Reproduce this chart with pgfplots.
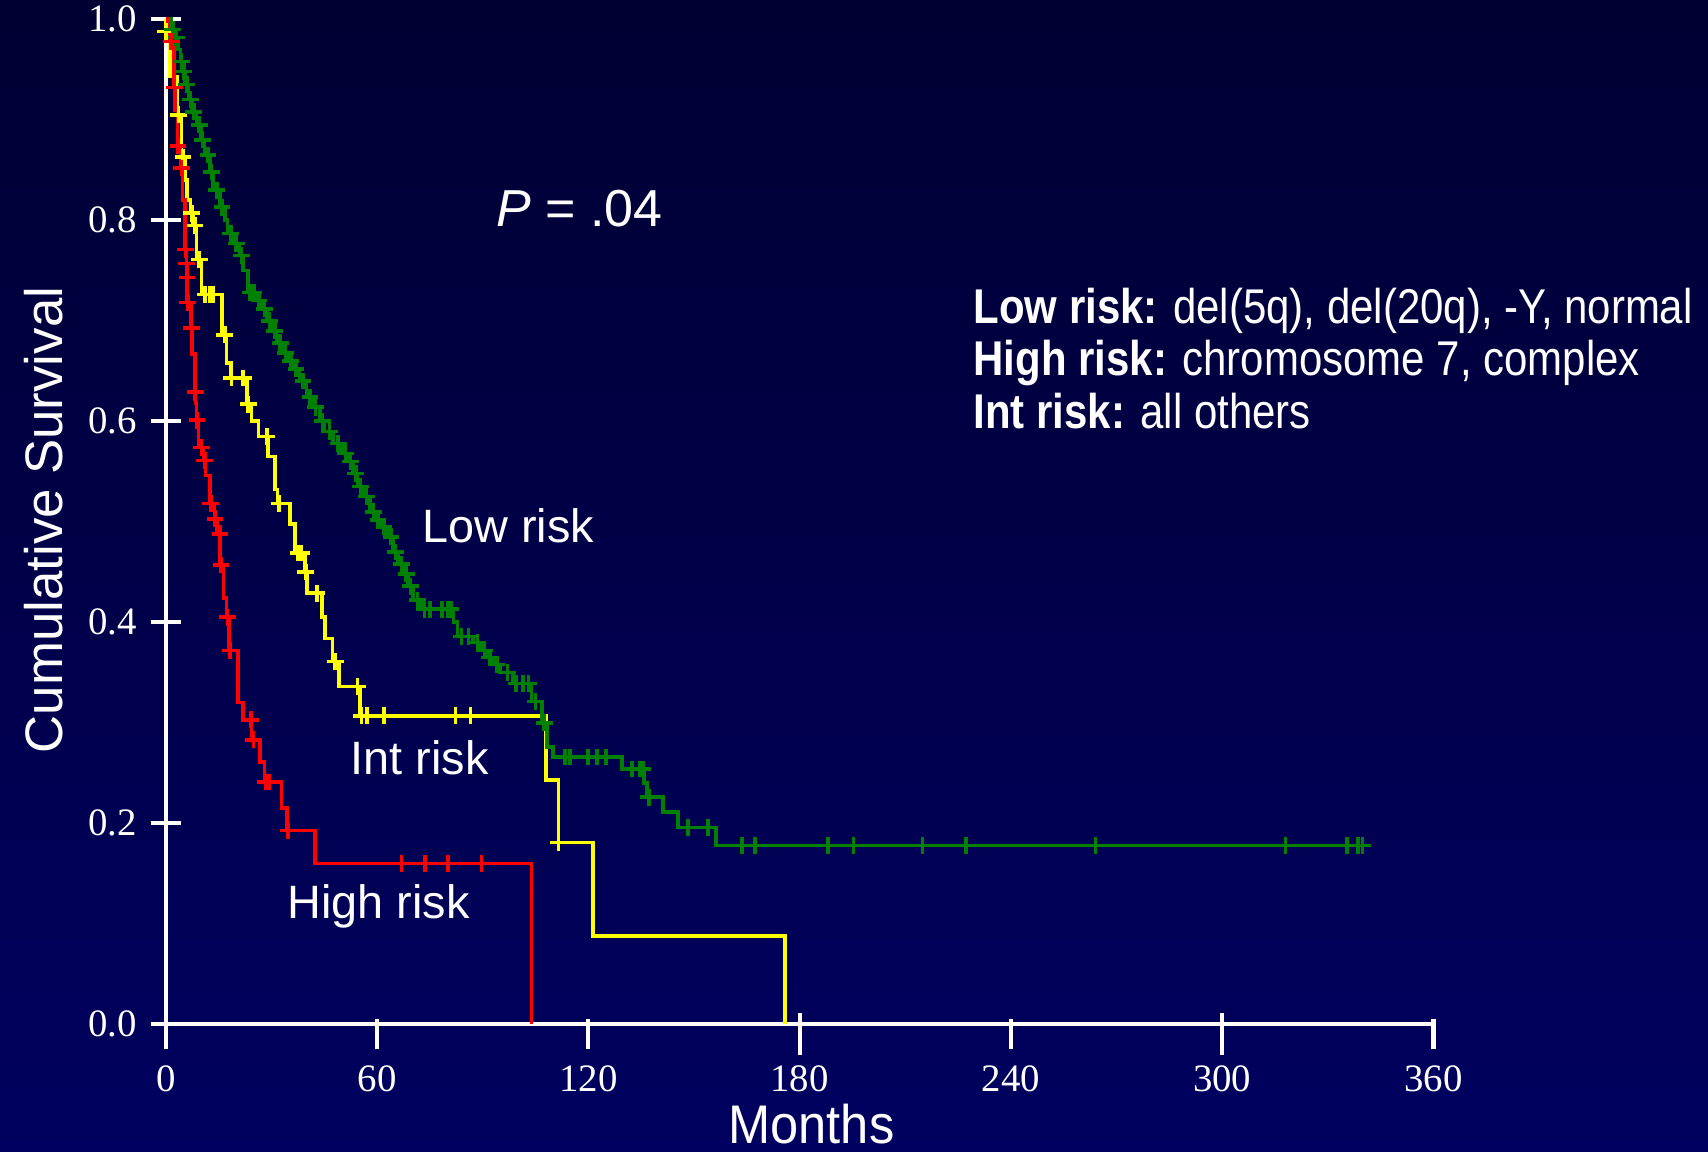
\documentclass[border=0pt]{standalone}
\usepackage{fontspec}
\setmainfont{Liberation Serif}
\newfontfamily\arial{Liberation Sans}
\newfontfamily\arialn[FakeStretch=0.86]{Liberation Sans}
\newfontfamily\arialm[FakeStretch=0.93]{Liberation Sans}
\usepackage{pgfplots}
\pgfplotsset{compat=1.18}
\definecolor{kmgreen}{RGB}{0,128,0}
\definecolor{kmyellow}{RGB}{255,255,0}
\definecolor{kmred}{RGB}{255,0,0}
\definecolor{bgtop}{RGB}{0,0,50}
\definecolor{bgbot}{RGB}{0,0,96}
\begin{document}
\begin{tikzpicture}
\shade[top color=bgtop, bottom color=bgbot] (0pt,0pt) rectangle (427pt,288pt);
\begin{axis}[
  at={(41.425pt,31.925pt)}, anchor=south west,
  scale only axis, width=316.95pt, height=251.25pt,
  xmin=0, xmax=360, ymin=0, ymax=1,
  clip=false,
  axis lines=left,
  axis line style={-, white, line width=1.05pt},
  every tick/.style={white, line width=1.05pt},
  tick align=center,
  major tick length=7.5pt,
  xtick={0,60,120,240,360},
  extra x ticks={180,300},
  extra x tick style={major tick length=10.5pt, xticklabel style={yshift=1.5pt}},
  xtick style={yshift=-2.5pt},
  ytick={0,0.2,0.4,0.6,0.8,1.0},
  /pgf/number format/assume math mode=true,
  ticklabel style={font=\fontsize{9.7}{11}\selectfont, text=white},
  yticklabel style={anchor=east, inner sep=0pt, xshift=-3.3pt,
    /pgf/number format/fixed, /pgf/number format/precision=1,
    /pgf/number format/fixed zerofill},
  xticklabel style={anchor=north, inner sep=0pt, yshift=-6.4pt},
]
% Int risk (yellow)
\addplot[kmyellow, line width=0.9pt, const plot, no marks] coordinates {
(0,1.0) (0.05,0.988) (1.2,0.943) (3.3,0.905) (4.5,0.863) (5.5,0.84) (6.0,0.82)
(7.0,0.807) (7.8,0.795) (8.8,0.761) (10.2,0.726) (15.9,0.686) (17.3,0.658)
(18.5,0.643) (23.0,0.617) (24.4,0.600) (26.3,0.585) (29.1,0.565) (31.0,0.532)
(31.8,0.518) (35.3,0.498) (36.7,0.469) (39.5,0.45) (40.1,0.429) (44.3,0.405)
(45.2,0.384) (47.4,0.361) (49.2,0.336) (55.2,0.307) (107.9,0.243) (111.5,0.181)
(121.4,0.088) (175.85,0.0)
};
\addplot[kmyellow, line width=0.9pt, only marks, mark=+, mark size=2.1pt] coordinates {
(0.0,0.988) (3.6,0.905) (4.9,0.863) (7.4,0.807) (8.3,0.795) (9.5,0.761)
(11.2,0.726) (12.6,0.726) (13.4,0.726) (16.8,0.686) (18.7,0.643) (22.0,0.643)
(23.4,0.617) (28.7,0.585) (32.2,0.518) (37.6,0.469) (38.6,0.469) (39.8,0.45)
(42.9,0.429) (48.1,0.361) (54.5,0.336) (55.65,0.307) (57.1,0.307) (62.0,0.307)
(82.3,0.307) (86.6,0.307) (111.5,0.181)
};
% Low risk (green)
\addplot[kmgreen, line width=0.9pt, const plot, no marks] coordinates {
(0,1.0) (1.5,0.99) (2.5,0.982) (3.5,0.97) (4.2,0.958) (5.0,0.948) (5.5,0.935)
(6.5,0.92) (7.5,0.908) (8.8,0.895) (10.0,0.88) (11.0,0.865) (12.5,0.848)
(13.5,0.83) (15.4,0.813) (16.8,0.80) (17.5,0.787) (19.5,0.777) (21.0,0.765)
(22.0,0.75) (23.4,0.728) (25.5,0.72) (27.0,0.712) (28.7,0.70) (30.0,0.69)
(31.5,0.678) (33.0,0.668) (34.4,0.66) (36.2,0.652) (38.0,0.64) (40.0,0.624)
(41.5,0.614) (43.8,0.60) (45.0,0.59) (47.5,0.578) (50.0,0.568) (52.0,0.56)
(53.2,0.548) (54.5,0.535) (56.0,0.525) (58.0,0.51) (59.5,0.502) (61.0,0.495)
(63.0,0.485) (64.6,0.47) (66.0,0.458) (67.5,0.448) (68.8,0.436) (70.3,0.422)
(72.5,0.413) (81.7,0.40) (82.8,0.386) (87.3,0.38) (89.5,0.372) (91.1,0.365)
(93.0,0.358) (95.0,0.35) (98.6,0.339) (103.9,0.321) (106.8,0.30) (108.2,0.276)
(110.0,0.266) (129.6,0.254) (135.8,0.24) (136.7,0.226) (141.2,0.211)
(145.5,0.196) (156.3,0.178) (339.8,0.178)
};
\addplot[kmgreen, line width=0.9pt, only marks, mark=+, mark size=2.1pt] coordinates {
(2.0,0.99) (3.0,0.982) (4.5,0.958) (5.2,0.948) (6.0,0.935) (7.0,0.92) (8.0,0.908)
(9.5,0.895) (10.5,0.88) (12.0,0.865) (13.0,0.848) (14.5,0.83) (16.0,0.813)
(18.5,0.787) (20.0,0.777) (21.5,0.765) (24.0,0.728) (25.0,0.728) (26.5,0.72)
(28.0,0.712) (29.5,0.70) (31.0,0.69) (32.5,0.678) (34.0,0.668) (35.5,0.66)
(37.0,0.652) (39.0,0.64) (41.0,0.624) (42.5,0.614) (44.5,0.60) (46.5,0.59)
(49.0,0.578) (51.0,0.568) (52.5,0.56) (54.0,0.548) (55.3,0.535) (57.0,0.525)
(59.0,0.51) (60.3,0.502) (62.0,0.495) (64.0,0.485) (65.3,0.47) (67.0,0.458)
(68.3,0.448) (69.5,0.436) (71.5,0.422) (73.5,0.413) (75.0,0.413) (78.5,0.413)
(80.0,0.413) (81.0,0.413) (84.0,0.386) (86.0,0.386) (88.5,0.38) (90.5,0.372)
(92.0,0.365) (94.0,0.358) (97.0,0.35) (99.5,0.339) (101.5,0.339) (103.0,0.339)
(105.0,0.321) (107.5,0.30) (113.4,0.266) (114.8,0.266) (119.9,0.266)
(122.5,0.266) (125.0,0.266) (132.4,0.254) (134.7,0.254) (135.5,0.254)
(137.2,0.226) (148.3,0.196) (154.0,0.196) (163.6,0.178) (167.3,0.178)
(188.1,0.178) (195.3,0.178) (214.9,0.178) (227.3,0.178) (264.0,0.178)
(318.0,0.178) (335.5,0.178) (338.5,0.178) (339.8,0.178)
};
% High risk (red)
\addplot[kmred, line width=0.9pt, const plot, no marks] coordinates {
(0,1.0) (0.5,0.978) (2.4,0.932) (2.7,0.91) (3.3,0.874) (4.2,0.852) (4.8,0.82)
(5.5,0.771) (5.9,0.757) (6.0,0.743) (6.1,0.718) (7.2,0.693) (7.5,0.667)
(8.3,0.629) (8.5,0.618) (8.8,0.601) (9.3,0.574) (10.7,0.561) (11.3,0.546)
(12.6,0.518) (13.8,0.503) (14.5,0.488) (15.5,0.457) (16.4,0.424) (17.3,0.405)
(18.0,0.372) (20.6,0.32) (22.0,0.303) (24.4,0.283) (26.8,0.261) (28.0,0.241)
(32.9,0.215) (34.4,0.193) (42.4,0.160) (103.9,0.0)
};
\addplot[kmred, line width=0.9pt, only marks, mark=+, mark size=2.1pt] coordinates {
(1.5,0.978) (2.5,0.932) (3.5,0.874) (4.5,0.852) (5.6,0.771) (5.95,0.757)
(6.05,0.743) (6.3,0.718) (7.3,0.693) (8.4,0.629) (8.9,0.601) (10.2,0.574)
(11.1,0.561) (12.8,0.518) (14.0,0.503) (15.4,0.488) (15.7,0.457) (17.5,0.405)
(18.3,0.372) (24.2,0.303) (24.9,0.283) (28.3,0.241) (29.3,0.241) (34.8,0.193)
(67.0,0.16) (73.6,0.16) (80.2,0.16) (89.7,0.16)
};
\end{axis}
\begin{scope}[x=0.25pt, y=0.25pt, every node/.style={inner sep=0pt, text=white}]
\node[anchor=base west, font=\arial\fontsize{11.7}{14}\selectfont] at (421.7,609) {Low risk};
\node[anchor=base west, font=\arial\fontsize{11.7}{14}\selectfont] at (350,377) {Int risk};
\node[anchor=base west, font=\arial\fontsize{11.7}{14}\selectfont] at (286.7,233.7) {High risk};
\node[anchor=base west, font=\arial\fontsize{13}{15}\selectfont] at (495.6,925.4) {{\itshape P} = .04};
\node[anchor=base west, font=\arialn\fontsize{12.2}{14}\selectfont] at (972.7,828.5) {\textbf{Low risk:} del(5q), del(20q), -Y, normal};
\node[anchor=base west, font=\arialn\fontsize{12.2}{14}\selectfont] at (972.7,776.2) {\textbf{High risk:} chromosome 7, complex};
\node[anchor=base west, font=\arialn\fontsize{12.2}{14}\selectfont] at (972.7,723.9) {\textbf{Int risk:} all others};
\node[anchor=base west, font=\arialm\fontsize{13.6}{16}\selectfont] at (727.6,8) {Months};
\node[anchor=base, rotate=90, font=\arial\fontsize{13.2}{16}\selectfont] at (62,632) {Cumulative Survival};
\end{scope}
\pgfresetboundingbox
\useasboundingbox (0pt,0pt) rectangle (427pt,288pt);
\end{tikzpicture}
\end{document}
